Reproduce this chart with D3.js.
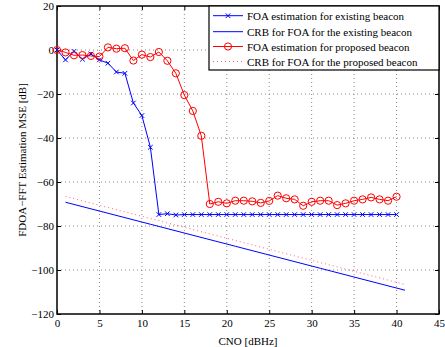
<!DOCTYPE html>
<html>
<head>
<meta charset="utf-8">
<script src="https://cdn.jsdelivr.net/npm/d3@7"></script>
<style>
  body { margin: 0; background: #fff; }
  svg { display: block; font-family: "Liberation Serif", "Times New Roman", serif; }
</style>
</head>
<body>
<div id="chart"></div>
<script>
// CNO values (dBHz) for the estimation curves
const cno = [0, 1, 2, 3, 4, 5, 6, 7, 8, 9, 10, 11, 12, 13, 14, 15, 16, 17, 18, 19, 20,
             21, 22, 23, 24, 25, 26, 27, 28, 29, 30, 31, 32, 33, 34, 35, 36, 37, 38, 39, 40];

const foaExisting = [0, -4.5, -0.6, -4.2, -1.8, -4.5, -6, -10, -10.6, -24.1, -29.8, -44.2, -74.8, -74.4, -75, -74.8,
                     -74.8, -74.8, -74.8, -74.8, -74.8, -74.8, -74.8, -74.8, -74.8, -74.8, -74.8, -74.8, -74.8, -74.8,
                     -74.8, -74.8, -74.8, -74.8, -74.8, -74.8, -74.8, -74.8, -74.8, -74.8, -74.8];

const foaProposed = [0, -1.1, -2.4, -2.3, -2.7, -3, 1.2, 0.6, 0.8, -4.8, -2.1, -3.2, -0.9, -4.9, -10.6, -20.5,
                     -27.7, -39, -70, -69, -69.7, -68.5, -68.5, -68.8, -69.5, -68.6, -66.2, -67.4, -67.9, -70.8,
                     -69, -68.5, -68.5, -70.5, -69.7, -68.5, -67.9, -67, -67.9, -68.5, -66.7];

// CRB straight lines
const crbCno = [1, 11, 21, 31, 41];
const crbExisting = [-69.2, -79.2, -89.2, -99.2, -109.2];
const crbProposed = [-66.6, -76.6, -86.6, -96.6, -106.6];

const xTicks = [0, 5, 10, 15, 20, 25, 30, 35, 40, 45];
const yTicks = [20, 0, -20, -40, -60, -80, -100, -120];

const legendLabels = [
    "FOA estimation for existing beacon",
    "CRB for FOA for the existing beacon",
    "FOA estimation for proposed beacon",
    "CRB for FOA for the proposed beacon"
];

const width = 445, height = 347;
const margin = { left: 57, top: 6, right: 6, bottom: 33 };
const pw = width - margin.left - margin.right;
const ph = height - margin.top - margin.bottom;

const svg = d3.select("#chart").append("svg")
    .attr("width", width)
    .attr("height", height);

const x = d3.scaleLinear().domain([0, 45]).range([margin.left, margin.left + pw]);
const y = d3.scaleLinear().domain([-120, 20]).range([margin.top + ph, margin.top]);

// grid
svg.append("g").selectAll("line")
    .data(xTicks.slice(1, -1))
    .enter().append("line")
    .attr("x1", d => x(d)).attr("x2", d => x(d))
    .attr("y1", margin.top).attr("y2", margin.top + ph)
    .attr("stroke", "#888").attr("stroke-width", 1)
    .attr("stroke-dasharray", "1,3");

svg.append("g").selectAll("line")
    .data(yTicks.slice(1, -1))
    .enter().append("line")
    .attr("y1", d => y(d)).attr("y2", d => y(d))
    .attr("x1", margin.left).attr("x2", margin.left + pw)
    .attr("stroke", "#888").attr("stroke-width", 1)
    .attr("stroke-dasharray", "1,3");

// axes with inward ticks
const xAxis = svg.append("g")
    .attr("transform", `translate(0,${margin.top + ph})`)
    .call(d3.axisBottom(x).tickValues(xTicks).tickSizeInner(-4).tickSizeOuter(0).tickPadding(5));
const xAxisTop = svg.append("g")
    .attr("transform", `translate(0,${margin.top})`)
    .call(d3.axisTop(x).tickValues(xTicks).tickSizeInner(-4).tickSizeOuter(0).tickFormat(""));
const yAxis = svg.append("g")
    .attr("transform", `translate(${margin.left},0)`)
    .call(d3.axisLeft(y).tickValues(yTicks).tickSizeInner(-4).tickSizeOuter(0).tickPadding(3));
const yAxisRight = svg.append("g")
    .attr("transform", `translate(${margin.left + pw},0)`)
    .call(d3.axisRight(y).tickValues(yTicks).tickSizeInner(-4).tickSizeOuter(0).tickFormat(""));

[xAxis, xAxisTop, yAxis, yAxisRight].forEach(g => {
    g.select(".domain").remove();
    g.selectAll("text").attr("font-size", 11).attr("font-family", "Liberation Serif").attr("fill", "#000");
});

svg.append("rect")
    .attr("x", margin.left).attr("y", margin.top)
    .attr("width", pw).attr("height", ph)
    .attr("fill", "none").attr("stroke", "#000").attr("stroke-width", 1.5);

// axis labels
svg.append("text")
    .attr("x", margin.left + pw / 2).attr("y", height - 2)
    .attr("text-anchor", "middle").attr("font-size", 11)
    .text("CNO [dBHz]");

svg.append("text")
    .attr("transform", `translate(26,${margin.top + ph / 2}) rotate(-90)`)
    .attr("text-anchor", "middle").attr("font-size", 11)
    .text("FDOA\u2212FFT Estimation MSE [dB]");

const line = d3.line().x(d => x(d[0])).y(d => y(d[1]));

const blue = "#0000ff", red = "#ff0000", pink = "#f66";

// CRB lines
svg.append("path")
    .datum(d3.zip(crbCno, crbProposed))
    .attr("d", line)
    .attr("fill", "none").attr("stroke", pink).attr("stroke-width", 1)
    .attr("stroke-dasharray", "1,3");

svg.append("path")
    .datum(d3.zip(crbCno, crbExisting))
    .attr("d", line)
    .attr("fill", "none").attr("stroke", blue).attr("stroke-width", 1);

// FOA estimation existing (blue x)
const existingData = d3.zip(cno, foaExisting);
svg.append("path")
    .datum(existingData)
    .attr("d", line)
    .attr("fill", "none").attr("stroke", blue).attr("stroke-width", 1);

function drawX(g, cx, cy, s) {
    g.append("path")
        .attr("d", `M${cx - s},${cy - s}L${cx + s},${cy + s}M${cx - s},${cy + s}L${cx + s},${cy - s}`)
        .attr("stroke", blue).attr("stroke-width", 1).attr("fill", "none");
}

const xMarks = svg.append("g");
existingData.forEach(d => drawX(xMarks, x(d[0]), y(d[1]), 2.3));

// FOA estimation proposed (red o)
const proposedData = d3.zip(cno, foaProposed);
svg.append("path")
    .datum(proposedData)
    .attr("d", line)
    .attr("fill", "none").attr("stroke", red).attr("stroke-width", 1);

svg.append("g").selectAll("circle")
    .data(proposedData)
    .enter().append("circle")
    .attr("cx", d => x(d[0]))
    .attr("cy", d => y(d[1]))
    .attr("r", 3.6)
    .attr("fill", "none").attr("stroke", red).attr("stroke-width", 1);

// legend
const lg = svg.append("g");
const lx = 209, ly = margin.top, lw = margin.left + pw - lx, lh = 64;
lg.append("rect")
    .attr("x", lx).attr("y", ly).attr("width", lw).attr("height", lh)
    .attr("fill", "#fff").attr("stroke", "#000").attr("stroke-width", 1.2);

const rowY = [15.7, 31.7, 46.5, 61.5];
legendLabels.forEach((label, i) => {
    const yy = rowY[i];
    const ln = lg.append("line")
        .attr("x1", 213).attr("x2", 243).attr("y1", yy).attr("y2", yy)
        .attr("stroke", i < 2 ? blue : (i === 3 ? pink : red)).attr("stroke-width", 1);
    if (i === 3) ln.attr("stroke-dasharray", "1,3");
    if (i === 0) drawX(lg, 228, yy, 2.3);
    if (i === 2) lg.append("circle").attr("cx", 228).attr("cy", yy).attr("r", 3.6)
        .attr("fill", "none").attr("stroke", red);
    lg.append("text")
        .attr("x", 247).attr("y", yy + 4)
        .attr("font-size", 11)
        .text(label);
});
</script>
</body>
</html>
